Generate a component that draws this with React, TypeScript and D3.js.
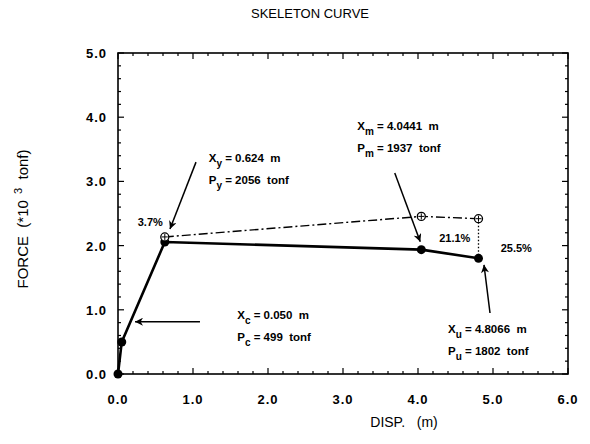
import React from 'react';
import * as d3 from 'd3';

const xTicks = [0, 1, 2, 3, 4, 5, 6];
const yTicks = [0, 1, 2, 3, 4, 5];
const dispValues = [0, 0.05, 0.624, 4.0441, 4.8066];
const forceValues = [0, 0.499, 2.056, 1.937, 1.802];
const upperDisp = [0.624, 4.0441, 4.8066];
const upperForce = [2.135, 2.455, 2.419];
const percentLabels = ['3.7%', '21.1%', '25.5%'];
const percentX = [0.43, 4.49, 5.31];
const percentY = [2.37, 2.12, 1.96];

const annoSub = ['y', 'c', 'm', 'u'];
const annoXText = ['0.624', '0.050', '4.0441', '4.8066'];
const annoPText = ['2056', '499', '1937', '1802'];
const annoLabelX = [1.21, 1.59, 3.19, 4.4];
const annoLabelY = [3.36, 0.92, 3.86, 0.7];
const arrowFromX = [1.04, 1.093, 3.69, 4.96];
const arrowFromY = [3.3, 0.815, 3.13, 0.95];
const arrowToX = [0.693, 0.227, 4.03, 4.88];
const arrowToY = [2.26, 0.815, 2.06, 1.7];

const W = 590;
const H = 444;
const L = 118, R = 568, T = 53, B = 374;
const FONT = '"Liberation Sans", Arial, Helvetica, sans-serif';

export default function App() {
  const x = d3.scaleLinear().domain([0, 6]).range([L, R]);
  const y = d3.scaleLinear().domain([0, 5]).range([B, T]);
  const minorX = d3.range(0, 6.0001, 0.2);
  const minorY = d3.range(0, 5.0001, 0.2);
  const isMajor = (v: number) => Math.abs(v - Math.round(v)) < 1e-6;

  const line = d3.line<number>().x((_, i) => x(dispValues[i])).y((_, i) => y(forceValues[i]));
  const upperLine = d3.line<number>().x((_, i) => x(upperDisp[i])).y((_, i) => y(upperForce[i]));

  return (
    <svg width={W} height={H} style={{ position: 'absolute', left: 0, top: 0, background: '#fff' }} fontFamily={FONT}>
      <defs>
        <marker id="ah" viewBox="0 0 10 10" refX="10" refY="5" markerWidth="10" markerHeight="8" orient="auto" markerUnits="userSpaceOnUse">
          <path d="M0,0 L10,5 L0,10 L3,5 Z" fill="#000" />
        </marker>
      </defs>
      <text x={(L + R) / 2 - 33} y={18} textAnchor="middle" fontSize={13} fill="#000">SKELETON CURVE</text>

      {/* frame */}
      <rect x={L} y={T} width={R - L} height={B - T} fill="none" stroke="#000" strokeWidth={1.6} />

      {/* ticks */}
      {minorX.map((v, i) => {
        const len = isMajor(v) ? 6 : 3;
        return (
          <g key={'tx' + i}>
            <line x1={x(v)} x2={x(v)} y1={B} y2={B - len} stroke="#000" strokeWidth={1.2} />
            <line x1={x(v)} x2={x(v)} y1={T} y2={T + len} stroke="#000" strokeWidth={1.2} />
          </g>
        );
      })}
      {minorY.map((v, i) => {
        const len = isMajor(v) ? 6 : 3;
        return (
          <g key={'ty' + i}>
            <line x1={L} x2={L + len} y1={y(v)} y2={y(v)} stroke="#000" strokeWidth={1.2} />
            <line x1={R} x2={R - len} y1={y(v)} y2={y(v)} stroke="#000" strokeWidth={1.2} />
          </g>
        );
      })}

      {/* tick labels */}
      {xTicks.map((v) => (
        <text key={'lx' + v} x={x(v)} y={404} textAnchor="middle" fontSize={13} fontWeight="bold" letterSpacing={1}>
          {v.toFixed(1)}
        </text>
      ))}
      {yTicks.map((v) => (
        <text key={'ly' + v} x={107} y={y(v) + 5} textAnchor="end" fontSize={13} fontWeight="bold" letterSpacing={1}>
          {v.toFixed(1)}
        </text>
      ))}

      {/* axis titles */}
      <text x={404} y={427} textAnchor="middle" fontSize={14}>
        DISP.{'\u00a0\u00a0\u00a0'}(m)
      </text>
      <text transform={`translate(28,${219}) rotate(-90)`} textAnchor="middle" fontSize={15}>
        FORCE{'\u00a0\u00a0'}(*10
        <tspan dy={-6} fontSize={11}>{'\u00a0\u00a0'}3</tspan>
        <tspan dy={6}>{'\u00a0\u00a0'}tonf)</tspan>
      </text>

      {/* upper (dash-dot) curve */}
      <path d={upperLine(upperDisp) || ''} fill="none" stroke="#000" strokeWidth={1.4} strokeDasharray="9 3 2 3" />
      <line x1={x(upperDisp[2])} x2={x(upperDisp[2])} y1={y(upperForce[2])} y2={y(forceValues[4])} stroke="#000" strokeWidth={1.3} strokeDasharray="1.5 2" />

      {/* skeleton curve */}
      <path d={line(dispValues) || ''} fill="none" stroke="#000" strokeWidth={2.6} strokeLinejoin="round" />
      {dispValues.map((d, i) => (
        <circle key={'p' + i} cx={x(d)} cy={y(forceValues[i])} r={4.5} fill="#000" />
      ))}
      {upperDisp.map((d, i) => (
        <g key={'u' + i}>
          <circle cx={x(d)} cy={y(upperForce[i])} r={4} fill="#fff" stroke="#000" strokeWidth={1.3} />
          <line x1={x(d) - 3} x2={x(d) + 3} y1={y(upperForce[i])} y2={y(upperForce[i])} stroke="#000" strokeWidth={1} />
          <line x1={x(d)} x2={x(d)} y1={y(upperForce[i]) - 3} y2={y(upperForce[i]) + 3} stroke="#000" strokeWidth={1} />
        </g>
      ))}

      {/* percentages */}
      {percentLabels.map((p, i) => (
        <text key={'pc' + i} x={x(percentX[i])} y={y(percentY[i]) + 4} textAnchor="middle" fontSize={11} fontWeight="bold">
          {p}
        </text>
      ))}

      {/* arrows */}
      {arrowFromX.map((fx, i) => (
        <line key={'ar' + i} x1={x(fx)} y1={y(arrowFromY[i])} x2={x(arrowToX[i])} y2={y(arrowToY[i])} stroke="#000" strokeWidth={1.5} markerEnd="url(#ah)" />
      ))}

      {/* annotations */}
      {annoSub.map((s, i) => {
        const tx = x(annoLabelX[i]);
        const ty = y(annoLabelY[i]) + 4;
        return (
          <g key={'an' + i} fontSize={11.5} fontWeight="bold">
            <text x={tx} y={ty}>
              X<tspan dy={5} fontSize={10}>{s}</tspan>
              <tspan dy={-5}>{'\u00a0= ' + annoXText[i] + '\u00a0\u00a0m'}</tspan>
            </text>
            <text x={tx} y={ty + 22}>
              P<tspan dy={5} fontSize={10}>{s}</tspan>
              <tspan dy={-5}>{'\u00a0= ' + annoPText[i] + '\u00a0\u00a0tonf'}</tspan>
            </text>
          </g>
        );
      })}
    </svg>
  );
}
